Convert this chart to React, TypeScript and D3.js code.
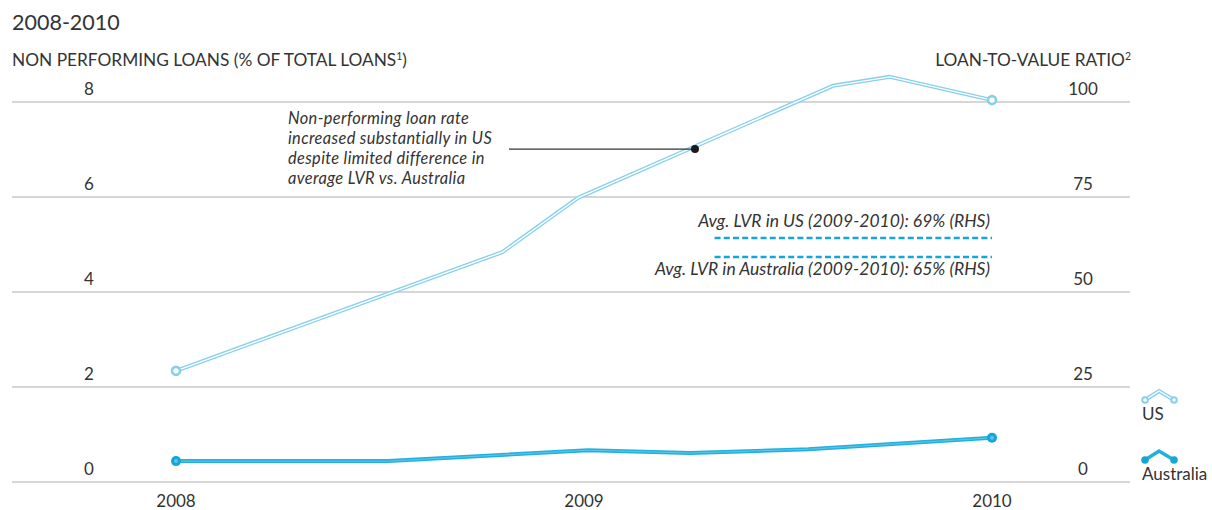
import React from "react";
import * as d3 from "d3";

const title = "2008-2010";
const leftTitle = "NON PERFORMING LOANS (% OF TOTAL LOANS";
const rightTitle = "LOAN-TO-VALUE RATIO";
const xTicks = [2008, 2009, 2010];
const leftTicks = [0, 2, 4, 6, 8];
const rightTicks = [0, 25, 50, 75, 100];

const usDates = [2008, 2008.8, 2008.985, 2009.61, 2009.75, 2010];
const usNpl = [2.34, 4.84, 5.98, 8.34, 8.53, 8.04];
const auDates = [2008, 2008.52, 2009.01, 2009.26, 2009.55, 2010];
const auNpl = [0.44, 0.44, 0.67, 0.61, 0.69, 0.93];

const noteDate = 2009.272;
const noteValue = 7.01;
const noteLines = [
  "Non-performing loan rate",
  "increased substantially in US",
  "despite limited difference in",
  "average LVR vs. Australia",
];

const avgLabels = [
  "Avg. LVR in US (2009-2010): 69% (RHS)",
  "Avg. LVR in Australia (2009-2010): 65% (RHS)",
];
const avgRhsPos = [64.2, 59.2];
const avgFrom = 2009.32;
const avgTo = 2010;

const legendNames = ["US", "Australia"];

const W = 1212;
const H = 510;
const FONT = "Lato, 'Open Sans', sans-serif";
const TXT = "#333333";
const GRID = "#c8c8c8";
const US_C = "#86d0ec";
const AU_C = "#22b0e0";
const DARK_BLUE = "#15a5d8";

export default function App() {
  const x = d3.scaleLinear().domain([2008, 2010]).range([176, 992]);
  const yL = d3.scaleLinear().domain([0, 8]).range([482, 102]);
  const yR = d3.scaleLinear().domain([0, 100]).range([482, 102]);

  const usData = usDates.map((d, i) => [d, usNpl[i]] as [number, number]);
  const auData = auDates.map((d, i) => [d, auNpl[i]] as [number, number]);
  const line = d3
    .line<[number, number]>()
    .x((d) => x(d[0]))
    .y((d) => yL(d[1]));

  const usPath = line(usData) || "";
  const auPath = line(auData) || "";
  const usFirst = usData[0];
  const usLast = usData[usData.length - 1];
  const auFirst = auData[0];
  const auLast = auData[auData.length - 1];

  const nx = x(noteDate);
  const ny = yL(noteValue);

  const lgX0 = 1145;
  const lgX1 = 1174;
  const lgPeak = 1159;
  const legendY = [400, 460];

  return (
    <svg
      width={W}
      height={H}
      style={{ position: "absolute", left: 0, top: 0, background: "#fff" }}
      fontFamily={FONT}
    >
      <text x={12} y={30} fontSize={21.5} fill={TXT}>
        {title}
      </text>
      <text x={12} y={66} fontSize={17.3} fill={TXT}>
        {leftTitle}
        <tspan fontSize={10.5} dy={-6}>
          1
        </tspan>
        <tspan dy={6}>)</tspan>
      </text>
      <text x={1131} y={66} fontSize={17.3} fill={TXT} textAnchor="end">
        {rightTitle}
        <tspan fontSize={10.5} dy={-6}>
          2
        </tspan>
      </text>

      {leftTicks.map((t) => (
        <line
          key={"g" + t}
          x1={12}
          x2={1130}
          y1={yL(t)}
          y2={yL(t)}
          stroke={GRID}
          strokeWidth={1.5}
        />
      ))}
      {leftTicks.map((t) => (
        <text
          key={"l" + t}
          x={89}
          y={yL(t) - 7}
          fontSize={17}
          fill={TXT}
          textAnchor="middle"
        >
          {t}
        </text>
      ))}
      {rightTicks.map((t) => (
        <text
          key={"r" + t}
          x={1083}
          y={yR(t) - 7}
          fontSize={17}
          fill={TXT}
          textAnchor="middle"
        >
          {t}
        </text>
      ))}
      {xTicks.map((t) => (
        <text
          key={"x" + t}
          x={x(t)}
          y={507}
          fontSize={17}
          fill={TXT}
          textAnchor="middle"
        >
          {t}
        </text>
      ))}

      <path d={auPath} fill="none" stroke={AU_C} strokeWidth={4} strokeLinejoin="round" />
      <path d={auPath} fill="none" stroke="#5cc6ea" strokeWidth={1} strokeLinejoin="round" />
      {[auFirst, auLast].map((d, i) => (
        <g key={"au" + i}>
          <circle cx={x(d[0])} cy={yL(d[1])} r={5} fill={DARK_BLUE} />
          <circle cx={x(d[0])} cy={yL(d[1])} r={2} fill="#5cc6ea" />
        </g>
      ))}

      <path d={usPath} fill="none" stroke={US_C} strokeWidth={4} strokeLinejoin="round" />
      <path d={usPath} fill="none" stroke="#ffffff" strokeWidth={1.4} strokeLinejoin="round" />
      {[usFirst, usLast].map((d, i) => (
        <circle
          key={"us" + i}
          cx={x(d[0])}
          cy={yL(d[1])}
          r={4}
          fill="#fff"
          stroke={US_C}
          strokeWidth={2.6}
        />
      ))}

      <line x1={509} x2={nx} y1={ny} y2={ny} stroke="#333" strokeWidth={1.3} />
      <circle cx={nx} cy={ny} r={4} fill="#1a1a1a" />
      <text
        x={288}
        y={124}
        fontSize={16.4}
        letterSpacing={0.35}
        fontStyle="italic"
        fill={TXT}
      >
        {noteLines.map((s, i) => (
          <tspan key={"n" + i} x={288} dy={i === 0 ? 0 : 20}>
            {s}
          </tspan>
        ))}
      </text>

      {avgRhsPos.map((v, i) => (
        <line
          key={"a" + i}
          x1={x(avgFrom)}
          x2={x(avgTo)}
          y1={yR(v)}
          y2={yR(v)}
          stroke={DARK_BLUE}
          strokeWidth={2.5}
          strokeDasharray="6,3.2"
        />
      ))}
      <text
        x={990}
        y={yR(avgRhsPos[0]) - 11}
        fontSize={17.5}
        fontStyle="italic"
        fill={TXT}
        textAnchor="end"
      >
        {avgLabels[0]}
      </text>
      <text
        x={990}
        y={yR(avgRhsPos[1]) + 18}
        fontSize={17.5}
        fontStyle="italic"
        fill={TXT}
        textAnchor="end"
      >
        {avgLabels[1]}
      </text>

      {legendNames.map((n, i) => {
        const ly = legendY[i];
        const pts: [number, number][] = [
          [lgX0, ly],
          [lgPeak, ly - 9],
          [lgX1, ly],
        ];
        const p = d3.line()(pts) || "";
        const isUS = i === 0;
        return (
          <g key={"lg" + n}>
            {isUS ? (
              <>
                <path d={p} fill="none" stroke={US_C} strokeWidth={4} />
                <path d={p} fill="none" stroke="#fff" strokeWidth={1.4} />
                <circle cx={lgX0} cy={ly} r={2.8} fill="#fff" stroke={US_C} strokeWidth={2} />
                <circle cx={lgX1} cy={ly} r={2.8} fill="#fff" stroke={US_C} strokeWidth={2} />
              </>
            ) : (
              <>
                <path d={p} fill="none" stroke={AU_C} strokeWidth={3.5} />
                <circle cx={lgX0} cy={ly} r={3.8} fill={DARK_BLUE} />
                <circle cx={lgX1} cy={ly} r={3.8} fill={DARK_BLUE} />
              </>
            )}
            <text x={1142} y={ly + 20} fontSize={17} fill={TXT}>
              {n}
            </text>
          </g>
        );
      })}
    </svg>
  );
}
